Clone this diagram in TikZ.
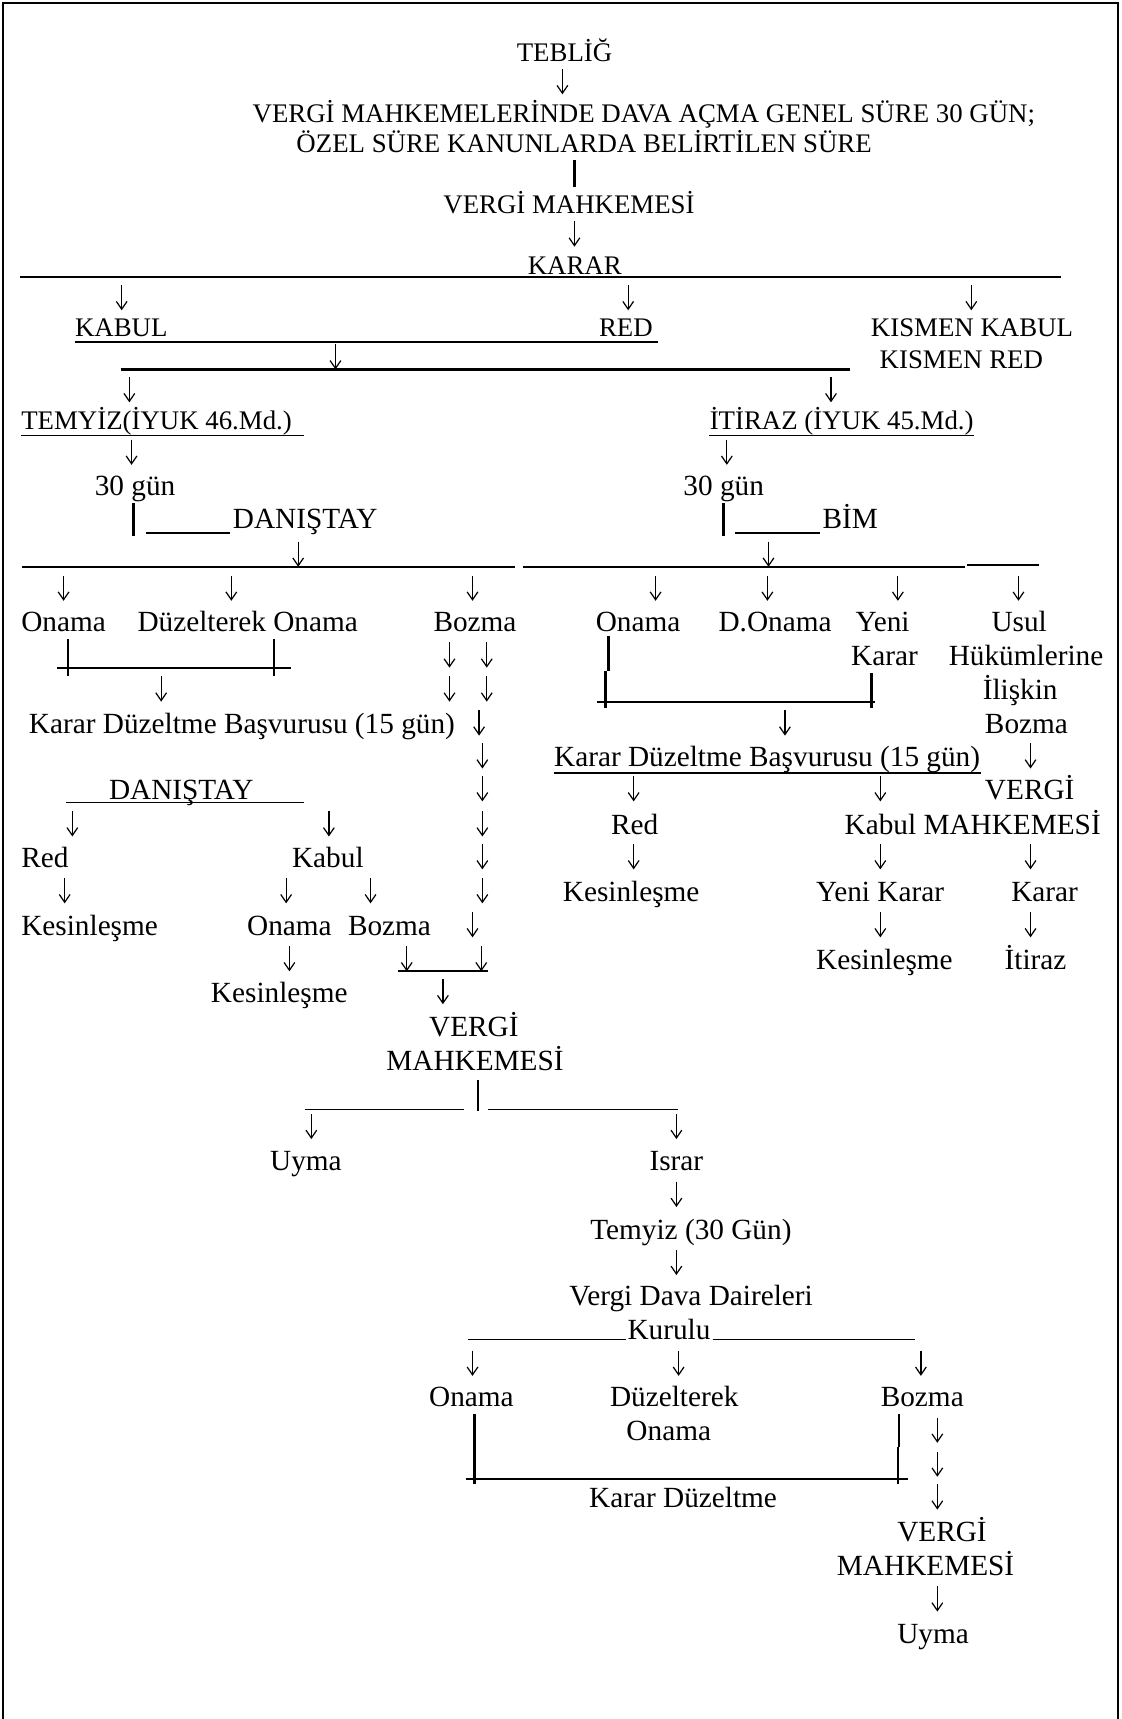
\documentclass[tikz,border=0pt]{standalone}
\usepackage{fontspec}
\setmainfont{Liberation Serif}
\usetikzlibrary{arrows.meta}

\tikzset{
  up/.style={anchor=west, inner sep=0pt, yshift=-1.2pt, font=\fontsize{11}{13}\selectfont, text height=7.6pt, text depth=2.2pt},
  lo/.style={anchor=west, inner sep=0pt, yshift=-1.2pt, font=\fontsize{12}{14}\selectfont, text height=8.3pt, text depth=2.4pt},
  dn/.style={line width=0.5pt, -{Straight Barb[length=3.2pt,width=4.4pt,line width=0.5pt]}},
  rule/.style={line width=0.9pt},
  bar/.style={line width=1.1pt},
  ul/.style={line width=0.6pt},
  frame/.style={line width=0.8pt}
}

% down arrow centred on (x,y), top and bottom named
\newcommand\dn[3]{%
  \coordinate (#1t) at (#2,#3-12);
  \coordinate (#1b) at (#2,#3+11);
  \draw[dn] (#1t) -- (#1b);}

\begin{document}
\begin{tikzpicture}[x=0.4494pt, y=-0.4494pt]
\useasboundingbox (0,0) rectangle (1023,1568);

% frame
\draw[frame] (3,1568) -- (3,3) -- (1020,3) -- (1020,1568);

% top block
\node[up] (tebl) at (471,47) {TEBLİĞ};
\dn{a1}{513}{75}
\node[up] (genel) at (230,103) {VERGİ MAHKEMELERİNDE DAVA AÇMA GENEL SÜRE 30 GÜN;};
\node[up] (ozel) at (270,130) {ÖZEL SÜRE KANUNLARDA BELİRTİLEN SÜRE};
\draw[bar] (524,146) -- (524,171);
\node[up] (vm1) at (404,186) {VERGİ MAHKEMESİ};
\dn{a2}{524}{214}
\node[up] (karar) at (481,242) {KARAR};
\draw[rule] (18,253) -- (968,253);

\dn{a3}{111}{272}
\dn{a4}{573}{272}
\dn{a5}{886}{272}
\node[up] (kabul) at (68,298) {KABUL};
\node[up] (red) at (546,298) {RED};
\node[up] (kk) at (794,298) {KISMEN KABUL};
\node[up] (kr) at (802,327) {KISMEN RED};
\draw[rule] (kabul.south west) -- (kabul.south west -| 600,0);
\dn{a6}{306}{326}
\draw[rule] (110,337) -- (775,337);
\dn{a7}{118}{356}
\dn{a8}{758}{356}

\node[up] (temyiz) at (19,383) {TEMYİZ(İYUK 46.Md.)};
\node[up] (itiraz) at (647,383) {İTİRAZ (İYUK 45.Md.)};
\draw[ul] (temyiz.south west) -- (temyiz.south west -| 277,0);
\draw[ul] (itiraz.south west) -- (itiraz.south east);
\dn{a9}{120}{413}
\dn{a10}{663}{413}

% Danistay / BIM
\node[lo] (g30a) at (86,443) {30 gün};
\node[lo] (g30b) at (623,443) {30 gün};
\draw[bar] (122,459) -- (122,489);
\draw[ul] (133,486) -- (210,486);
\node[lo] (dan1) at (212,473) {DANIŞTAY};
\draw[bar] (660,459) -- (660,489);
\draw[ul] (670,486) -- (748,486);
\node[lo] (bim) at (750,473) {BİM};
\dn{a11}{272}{506}
\dn{a12}{701}{506}
\draw[rule] (20,517) -- (470,517);
\draw[rule] (477,517) -- (880,517);
\draw[rule] (882,515) -- (948,515);

\foreach \xp in {58,211,431,598,700,819,929}
  {\dn{r\xp}{\xp}{537}}

\node[lo] (on1) at (19,567) {Onama};
\node[lo] (don1) at (125,567) {Düzelterek Onama};
\node[lo] (bz1) at (395,567) {Bozma};
\node[lo] (on2) at (543,567) {Onama};
\node[lo] (don2) at (655,567) {D.Onama};
\node[lo] (yeni) at (780,567) {Yeni};
\node[lo] (usul) at (904,567) {Usul};

% left bracket
\draw[bar] (62,583) -- (62,617);
\draw[bar] (250,583) -- (250,617);
\draw[rule] (52,609) -- (265,609);
\dn{a13}{147}{629}
\node[lo] (kdb1) at (26,660) {Karar Düzeltme Başvurusu (15 gün)};

% bozma chain
\foreach \yp in {598,629}
  {\dn{p\yp}{410}{\yp} \dn{q\yp}{444}{\yp}}
\dn{a14}{437}{660}
\foreach \yp in {690,720,752,782,813}
  {\dn{s\yp}{440}{\yp}}
\dn{a15}{431}{844}
\dn{a16}{371}{875}
\dn{a17}{439}{875}
\draw[rule] (363,886) -- (445,886);

% right bracket
\node[lo] (karar2) at (776,598) {Karar};
\node[lo] (hukum) at (865,598) {Hükümlerine};
\node[lo] (iliskin) at (896,629) {İlişkin};
\node[lo] (bz3) at (898,660) {Bozma};
\draw[bar] (555,580) -- (555,612);
\draw[bar] (552,612) -- (552,646);
\draw[bar] (795,614) -- (795,646);
\draw[rule] (545,640) -- (798,640);
\dn{a18}{716}{660}
\node[lo] (kdb2) at (505,690) {Karar Düzeltme Başvurusu (15 gün)};
\draw[ul] (kdb2.south west) -- (kdb2.south east);
\dn{a19}{940}{690}

% second Danistay
\node[lo] (dan2) at (99,720) {DANIŞTAY};
\draw[ul] (60,732) -- (277,732);
\dn{a20}{578}{720}
\dn{a21}{803}{720}
\node[lo] (vergi2) at (898,720) {VERGİ};
\dn{a22}{66}{752}
\dn{a23}{300}{752}
\node[lo] (red2) at (557,752) {Red};
\node[lo] (kabul2) at (770,752) {Kabul MAHKEMESİ};
\node[lo] (red1) at (19,782) {Red};
\node[lo] (kabul1) at (266,782) {Kabul};
\dn{a24}{578}{782}
\dn{a25}{803}{782}
\dn{a26}{940}{782}
\dn{a27}{59}{813}
\dn{a28}{261}{813}
\dn{a29}{338}{813}
\node[lo] (kes2) at (513,813) {Kesinleşme};
\node[lo] (yk) at (744,813) {Yeni Karar};
\node[lo] (karar3) at (922,813) {Karar};
\node[lo] (kes1) at (19,844) {Kesinleşme};
\node[lo] (on3) at (225,844) {Onama};
\node[lo] (bz2) at (317,844) {Bozma};
\dn{a30}{803}{844}
\dn{a31}{940}{844}
\dn{a32}{264}{875}
\node[lo] (kes4) at (744,875) {Kesinleşme};
\node[lo] (itr) at (916,875) {İtiraz};
\node[lo] (kes3) at (192,905) {Kesinleşme};
\dn{a33}{404}{905}

% vergi mahkemesi
\node[lo] (vergi3) at (391,936) {VERGİ};
\node[lo] (mah3) at (352,967) {MAHKEMESİ};
\draw[bar] (436,985) -- (436,1013);
\draw[ul] (278,1012) -- (423,1012);
\draw[ul] (445,1012) -- (618,1012);
\dn{a34}{284}{1028}
\dn{a35}{617}{1028}
\node[lo] (uyma1) at (246,1058) {Uyma};
\node[lo] (israr) at (592,1058) {Israr};
\dn{a36}{617}{1090}
\node[lo] (tem2) at (538,1121) {Temyiz (30 Gün)};
\dn{a37}{617}{1152}
\node[lo] (vdd) at (519,1182) {Vergi Dava Daireleri};
\node[lo] (kurulu) at (572,1213) {Kurulu};
\draw[ul] (427,1222) -- (571,1222);
\draw[ul] (650,1222) -- (835,1222);
\dn{a38}{431}{1244}
\dn{a39}{619}{1244}
\dn{a40}{840}{1244}
\node[lo] (on4) at (391,1274) {Onama};
\node[lo] (duz) at (556,1274) {Düzelterek};
\node[lo] (bz4) at (803,1274) {Bozma};
\node[lo] (on5) at (571,1305) {Onama};
\draw[bar] (433,1290) -- (433,1354);
\draw[bar] (820,1290) -- (820,1320);
\draw[bar] (819,1320) -- (819,1354);
\draw[rule] (425,1349) -- (828,1349);
\foreach \yp in {1305,1336,1366}
  {\dn{t\yp}{855}{\yp}}
\node[lo] (kd) at (537,1366) {Karar Düzeltme};
\node[lo] (vergi4) at (818,1397) {VERGİ};
\node[lo] (mah4) at (763,1428) {MAHKEMESİ};
\dn{a41}{855}{1459}
\node[lo] (uyma2) at (818,1490) {Uyma};

\end{tikzpicture}
\end{document}
